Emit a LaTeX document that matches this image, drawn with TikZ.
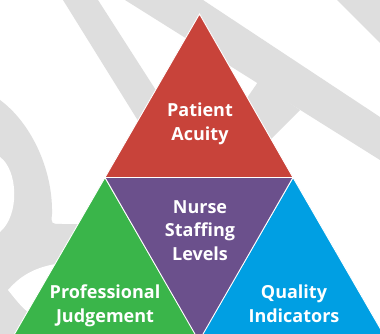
\documentclass[tikz,border=0pt]{standalone}
\usepackage{fontspec}
\newfontfamily\lblfont{Open Sans}
\definecolor{triRed}{HTML}{C8433A}
\definecolor{triPurple}{HTML}{6B508C}
\definecolor{triGreen}{HTML}{3AB54A}
\definecolor{triBlue}{HTML}{009FE3}
\definecolor{wmGrey}{HTML}{DEDEDE}
\tikzset{
  wm/.style={fill=wmGrey, draw=none},
  hole/.style={fill=white, draw=none},
  tri/.style={draw=white, line width=0.9pt, line join=miter},
  lbl/.style={text=white, align=center, font=\lblfont\bfseries\fontsize{18}{23.5}\selectfont, inner sep=0pt, anchor=base}
}
\begin{document}
\begin{tikzpicture}[x=1pt,y=-1pt]
\useasboundingbox (0,0) rectangle (380,334);
\clip (0,0) rectangle (380,334);
\fill[white] (0,0) rectangle (380,334);
% watermark
\path[wm] (63,0) -- (98,0) -- (175,120) -- (150,140) -- cycle;
\path[wm] (125,0) -- (203,0) -- (380,117) -- (380,160) -- cycle;
\path[wm] (258,82) -- (300,110) -- (255,155) -- (225,130) -- cycle;
\path[wm] (337,0) -- (380,0) -- (380,43) -- cycle;
\path[wm] (0,100) .. controls (30,122) and (53,168) .. (52,214) .. controls (51,224) .. (62,224) -- (95,224) -- (95,334) -- (0,334) -- cycle;
\path[hole] (0,157) .. controls (18,170) and (20,215) .. (0,232) -- cycle;
\path[hole] (8,290) .. controls (22,274) and (38,265) .. (70,262) -- (70,330) -- (32,316) .. controls (20,305) .. (8,290) -- cycle;
% triangles
\coordinate (apex) at (199.5,14);
\coordinate (L) at (105,177.5);
\coordinate (R) at (293,177.5);
\coordinate (B) at (199,341);
\fill[triGreen, tri] (L) -- (14,335) -- (196,335) -- cycle;
\fill[triBlue, tri] (R) -- (202,335) -- (384,335) -- cycle;
\fill[triPurple, tri] (L) -- (R) -- (B) -- cycle;
\fill[triRed, tri] (apex) -- (L) -- (R) -- cycle;
% labels
\node[lbl] (acuity) at (200,140) {Patient\\Acuity};
\node[lbl] (staff) at (200,260) {Nurse\\Staffing\\Levels};
\node[lbl] (prof) at (105,322) {Professional\\Judgement};
\node[lbl] (qual) at (294,322) {Quality\\Indicators};
\end{tikzpicture}
\end{document}
